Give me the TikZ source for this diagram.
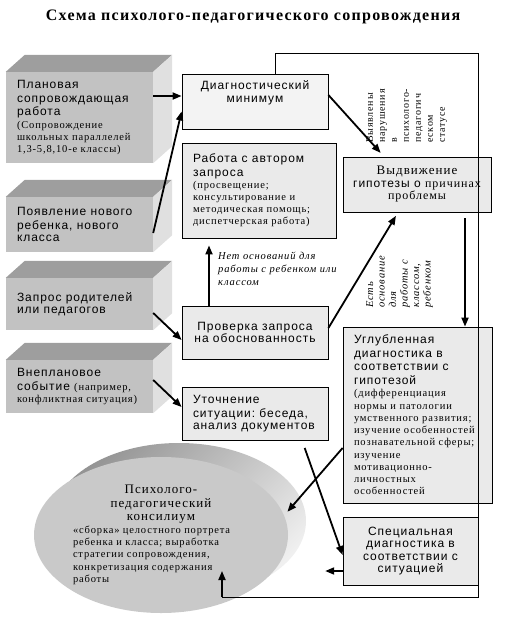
\documentclass[tikz,border=0pt]{standalone}
\usepackage{fontspec}
\setmainfont{Liberation Serif}
\newfontfamily\boxsans[LetterSpace=8]{Liberation Sans}
\newfontfamily\boxserif[LetterSpace=8]{Liberation Serif}
\usetikzlibrary{arrows.meta, shapes.geometric, calc}

\definecolor{frontgray}{HTML}{C2C2C2}
\definecolor{topgray}{HTML}{9E9E9E}
\definecolor{sidegray}{HTML}{E0E0E0}
\definecolor{boxfill}{HTML}{EAEAEA}
\definecolor{minfill}{HTML}{F3F3F3}

\newcommand{\bigtxt}{\boxsans\fontsize{12}{13.5}\selectfont}
\newcommand{\smtxt}{\boxserif\fontsize{10.5}{12.3}\selectfont}

\begin{document}
\begin{tikzpicture}[x=1pt, y=-1pt,
    block/.style={fill=frontgray, minimum width=147pt, text width=125pt, inner xsep=11pt, inner ysep=4pt, align=flush left},
    box/.style={draw, line width=0.8pt, fill=boxfill, inner xsep=11pt, inner ysep=4pt, align=flush left},
    cbox/.style={draw, line width=0.8pt, fill=boxfill, inner xsep=1pt, inner ysep=4pt, align=flush center},
    arrow/.style={-{Triangle[length=9pt,width=7pt]}, line width=1.8pt},
    loop/.style={line width=0.7pt},
    note/.style={font=\boxserif\itshape\fontsize{10.5}{13}\selectfont, align=left, inner sep=0pt}
  ]
  \useasboundingbox (0,0) rectangle (506,643);

  % Title
  \node[font=\boxserif\bfseries\fontsize{16}{18}\selectfont] (title) at (253,17) {Схема психолого-педагогического сопровождения};

  % Left column: sources of requests
  \node[block, minimum height=91pt] (plan) at (79.5,117.5) {\bigtxt Плановая\\сопровождающая\\работа\\\smtxt (Сопровождение\\школьных~параллелей\\1,3-5,8,10-е~классы)};
  \node[block, minimum height=55pt] (newchild) at (79.5,224.5) {\bigtxt Появление~нового\\ребенка,~нового\\класса};
  \node[block, minimum height=52pt] (request) at (79.5,304) {\bigtxt Запрос~родителей\\или~педагогов};
  \node[block, minimum height=53pt] (unplanned) at (79.5,386.5) {\bigtxt Внеплановое\\событие~{\smtxt(например,}\\\smtxt конфликтная~ситуация)};

  \foreach \blk in {plan, newchild, request, unplanned} {
    \fill[topgray] (\blk.north west) -- ++(19,-17) -- ($(\blk.north east)+(19,-17)$) -- (\blk.north east) -- cycle;
    \fill[sidegray] (\blk.north east) -- ++(19,-17) -- ($(\blk.south east)+(19,-17)$) -- (\blk.south east) -- cycle;
  }

  % Middle column
  \node[cbox, fill=minfill, minimum width=146pt, minimum height=55pt] (dm) at (255,101.5) {};
  \node[font=\bigtxt, align=center, anchor=north] (dmtext) at ([yshift=-3pt]dm.north) {Диагностический\\минимум};
  \node[box, minimum width=154pt, minimum height=95pt, text width=132pt] (work) at (259,190.5) {\bigtxt Работа~с~автором\\запроса\\\smtxt (просвещение;\\консультирование~и\\методическая~помощь;\\диспетчерская~работа)};
  \node[cbox, minimum width=146pt, minimum height=53pt, text width=144pt] (prov) at (255,332.5) {\bigtxt Проверка~запроса\\на~обоснованность};
  \node[box, minimum width=146pt, minimum height=53pt, text width=124pt] (utoch) at (255,413.5) {\bigtxt Уточнение\\ситуации:~беседа,\\анализ~документов};

  % Right column
  \node[cbox, minimum width=148pt, minimum height=55pt, text width=146pt] (hyp) at (417,184.5) {\boxserif\fontsize{13}{13}\selectfont Выдвижение\\{\boxsans\fontsize{12}{12.5}\selectfont гипотезы~о}~{\boxserif\fontsize{12}{12.5}\selectfont причинах}\\\boxserif\fontsize{12}{12.5}\selectfont проблемы};
  \node[box, minimum width=149pt, minimum height=176pt, text width=127pt] (deep) at (417.5,415) {\bigtxt Углубленная\\диагностика~в\\соответствии~с\\гипотезой\\\smtxt (дифференциация\\нормы~и~патологии\\умственного~развития;\\изучение~особенностей\\познавательной~сферы;\\изучение\\мотивационно-\\личностных\\особенностей};
  \node[cbox, minimum width=135pt, minimum height=68pt, text width=133pt] (special) at (410.5,551) {\boxsans\fontsize{12}{12.5}\selectfont Специальная\\диагностика~в\\соответствии~с\\ситуацией};

  % Consilium
  \node[ellipse, top color=black!42, bottom color=black!6, shading angle=45, minimum width=254pt, minimum height=156pt] (councilrim) at (179,521) {};
  \node[ellipse, fill=black!21, minimum width=254pt, minimum height=156pt, inner sep=1pt, text width=176pt] (council) at (161,535) {\centering\boxserif\fontsize{13}{13.5}\selectfont Психолого-\\педагогический\\консилиум\par\raggedright\smtxt «сборка»~целостного~портрета\\ребенка~и~класса;~выработка\\стратегии~сопровождения,\\конкретизация~содержания\\работы\par};

  % Labels
  \node[note, anchor=north west] (noBasis) at (218,252) {Нет оснований для\\работы с ребенком или\\классом};
  \node[note, font=\boxserif\fontsize{10}{12}\selectfont, rotate=90, anchor=north west] (disorder) at (366,143) {Выявлены\\нарушения\\в\\психолого-\\педагогич\\еском\\статусе};
  \node[note, font=\boxserif\itshape\fontsize{10.5}{11.5}\selectfont, rotate=90, anchor=north west] (basis) at (366,308) {Есть\\основание\\для\\работы с\\классом,\\ребенком};

  % Feedback loop
  \coordinate (loopTR) at (478,53);
  \coordinate (loopBR) at (478,597);
  \coordinate (loopBL) at (222,597);
  \coordinate (loopEnd) at (222,571);
  \draw[loop] ([xshift=20pt]dm.north) |- (loopTR) -- (loopBR) -- (loopBL);
  \draw[arrow] (loopBL) -- (loopEnd);

  % Arrows
  \draw[arrow] ([yshift=21.5pt]plan.east) -- ([yshift=21.5pt]plan.east -| dm.west);
  \draw[arrow] ([yshift=-8.5pt]newchild.east) -- ([yshift=-10pt]dm.west);
  \draw[arrow] ([yshift=-9pt]request.east) -- ([yshift=-7.5pt]prov.west);
  \draw[arrow] ([yshift=6.5pt]unplanned.east) -- ([yshift=6.5pt]utoch.west);
  \draw[arrow, shorten >=7pt] ([xshift=-46pt]prov.north) -- ([xshift=-46pt]prov.north |- work.south);
  \draw[arrow, shorten >=5pt] ([yshift=6.5pt]dm.east) -- ([xshift=-33pt]hyp.north);
  \draw[arrow, shorten >=4pt] ([yshift=4.5pt]prov.east) -- ([xshift=-19pt]hyp.south);
  \draw[arrow, shorten <=6pt] ([xshift=48pt]hyp.south) -- ([xshift=48pt]hyp.south |- deep.north);
  \draw[arrow, shorten <=8pt] ([xshift=47pt]utoch.south) -- ([yshift=-4pt]special.west);
  \draw[arrow, shorten >=5pt] ([yshift=-33pt]deep.west) -- (council.9);
  \draw[arrow, shorten >=37pt] ([yshift=-20pt]special.west) -- ([yshift=-20pt]special.west -| council.east);
\end{tikzpicture}
\end{document}
